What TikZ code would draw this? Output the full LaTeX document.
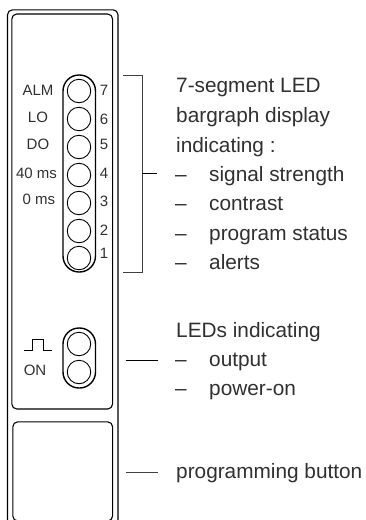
\documentclass[tikz,border=0pt]{standalone}
\usepackage{fontspec}
\setmainfont{Liberation Sans}
\definecolor{txt}{HTML}{303030}
\tikzset{
  x=1pt,y=-1pt,
  body/.style={draw=black,line width=1.1pt},
  pill/.style={draw=black,line width=1.4pt,rounded corners=16pt},
  led/.style={draw=black,line width=0.9pt,circle,minimum size=23.5pt,inner sep=0pt},
  small/.style={font=\fontsize{15}{17}\selectfont,text=txt,inner sep=0pt,anchor=base},
  lab/.style={font=\fontsize{20.8}{24}\selectfont,text=txt,inner sep=0pt,anchor=base west},
  lead/.style={draw=black!75,line width=0.8pt}
}
\begin{document}
\begin{tikzpicture}
\useasboundingbox (0,0) rectangle (366,520);
\clip (0,0) rectangle (366,520);
% housing
\draw[body,rounded corners=5pt] (7.5,530) -- (7.5,9.8) -- (118,9.8) -- (118,530);
\draw[body,rounded corners=5pt] (11.8,14) rectangle (112.6,409);
\draw[body,rounded corners=5pt] (12.8,421.8) rectangle (112.6,521);
% LED pill
\draw[pill] (63,75) rectangle (95.5,272);
\foreach \n/\y/\d/\by in {a/91/7/95,b/119/6/124,c/147/5/149.5,d/175/4/178,e/203/3/206.7}{
  \node[led] (led\n) at (79,\y) {};
  \node[small] (num\n) at (104,\by) {\d};
}
\node[small] (txta) at (38,95) {ALM};
\node[small] (txtb) at (38,122) {LO};
\node[small] (txtc) at (38,149.5) {DO};
\node[small] (txtd) at (36.5,178) {40 ms};
\node[small] (txte) at (39,204) {0 ms};
\node[led] (ledf) at (79,231) {};
\node[small] (numf) at (104,235) {2};
\node[led] (ledg) at (79,258) {};
\node[small] (numg) at (104,258) {1};
% Output pill
\draw[pill] (63,328) rectangle (95.5,388);
\node[led] (ledo) at (79,344) {};
\node[led] (ledp) at (79,372) {};
\draw[draw=black,line width=0.9pt] (24.3,350.7) -- (32.3,350.7) -- (32.3,339) -- (43.3,339) -- (43.3,350.7) -- (51.7,350.7);
\node[small] (on) at (35,375) {ON};
% leaders
\coordinate (bt) at (123.3,75.7);
\coordinate (bb) at (123.3,272.7);
\coordinate (br) at (142.3,173);
\coordinate (bre) at (157,173);
\draw[lead] (bt) -- (142.3,75.7) -- (142.3,272.7) -- (bb);
\draw[draw=black,line width=0.8pt] (br) -- (bre);
\coordinate (l1) at (125.7,360);
\coordinate (l1e) at (158,360);
\draw[draw=black,line width=0.8pt] (l1) -- (l1e);
\coordinate (l2) at (126,472);
\coordinate (l2e) at (158,472);
\draw[lead] (l2) -- (l2e);
% labels
\node[lab] (t1) at (176,92) {7-segment LED};
\node[lab] (t2) at (176,122) {bargraph display};
\node[lab] (t3) at (176,152) {indicating :};
\foreach \n/\y/\t in {a/181/signal strength,b/210/contrast,c/240/program status,d/269/alerts}{
  \node[lab] (dash\n) at (175,\y) {–};
  \node[lab] (item\n) at (209,\y) {\t};
}
\node[lab] (t4) at (176,337) {LEDs indicating};
\node[lab] (dashe) at (175,366) {–};
\node[lab] (iteme) at (209,366) {output};
\node[lab] (dashf) at (175,395) {–};
\node[lab] (itemf) at (209,395) {power-on};
\node[lab] (t5) at (176,478) {programming button};
\end{tikzpicture}
\end{document}
